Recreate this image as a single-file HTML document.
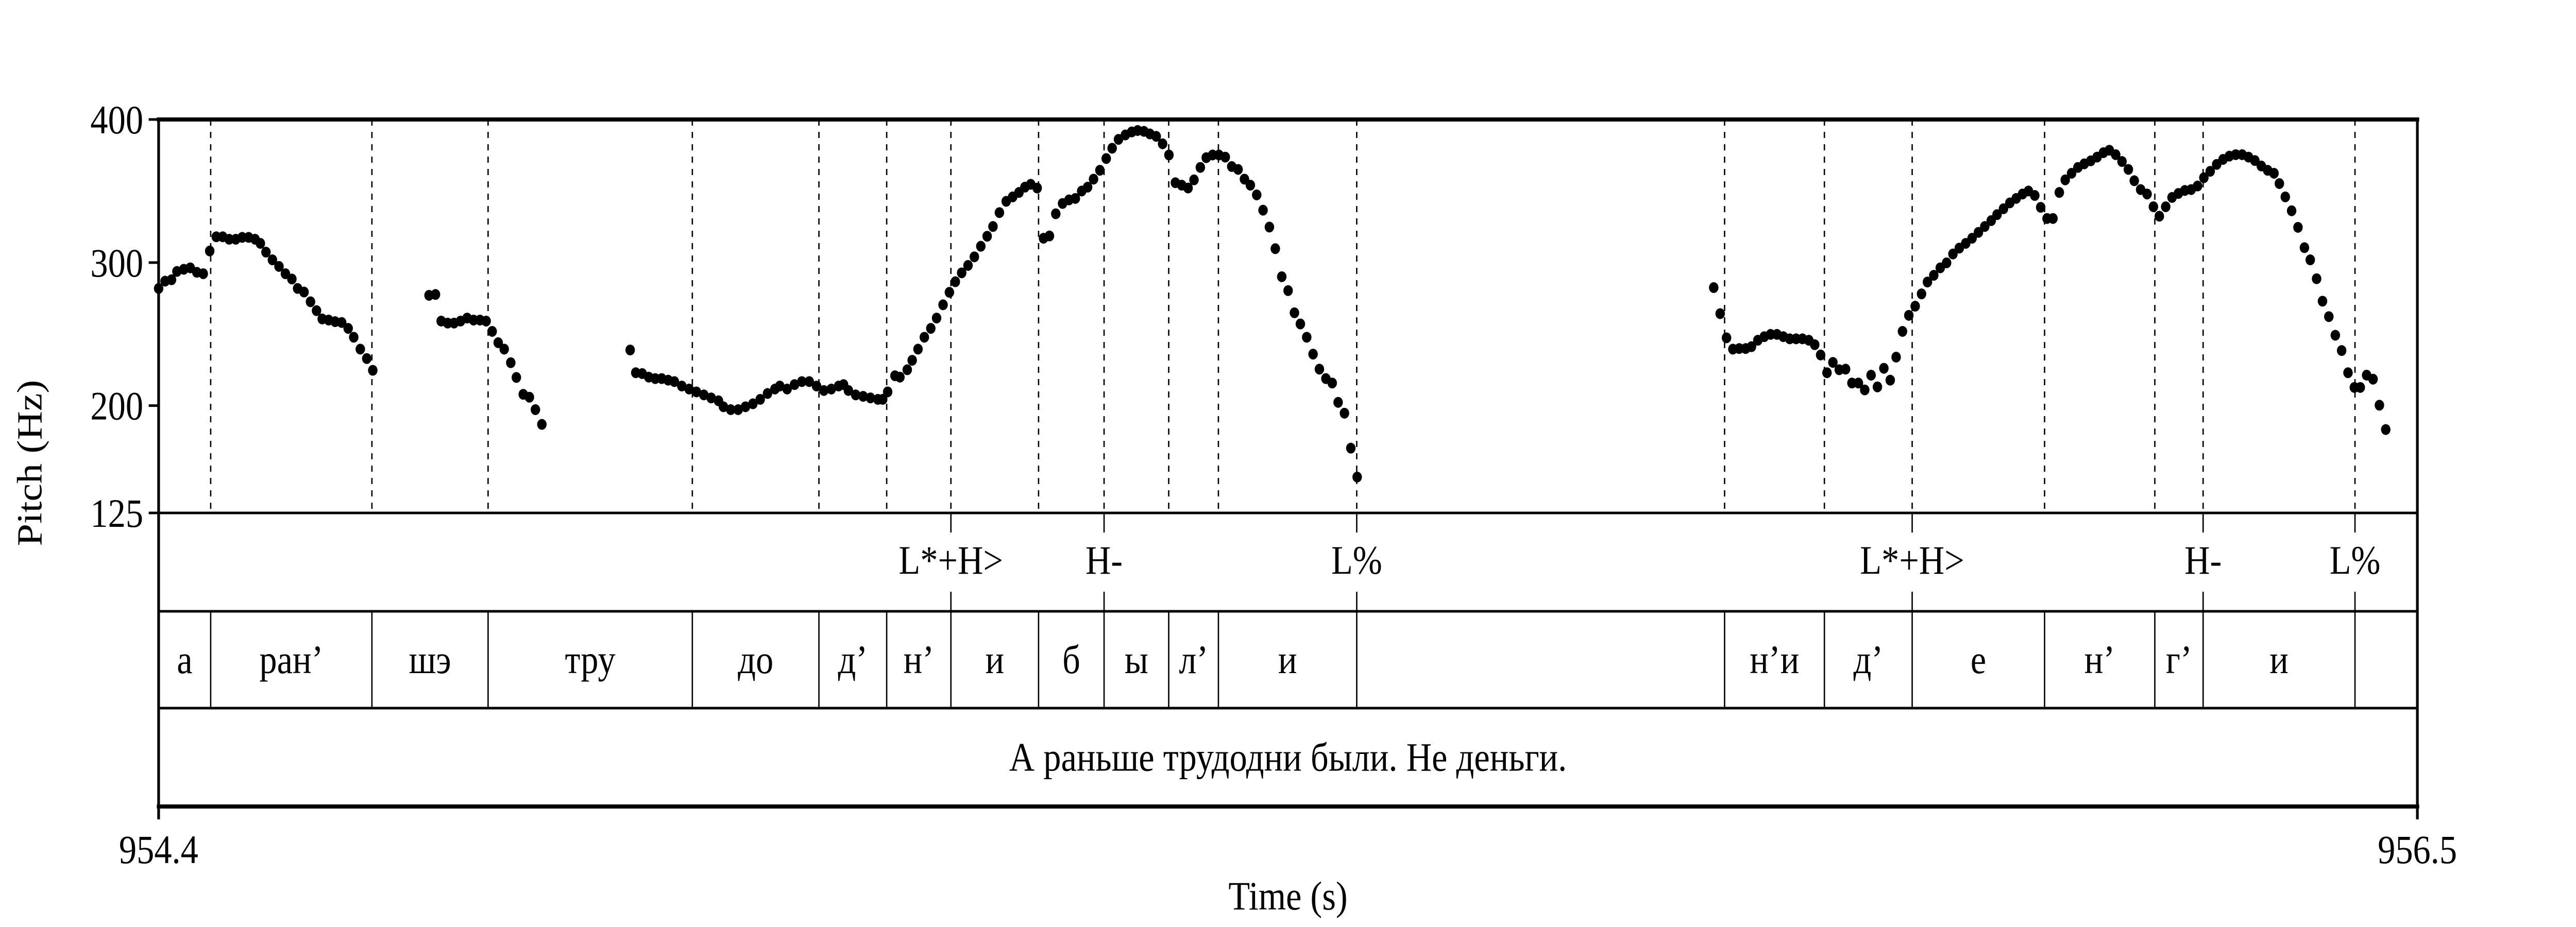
<!DOCTYPE html>
<html><head><meta charset="utf-8"><style>
html,body{margin:0;padding:0;background:#fff;width:100%;height:100%;overflow:hidden;}
svg{display:block;width:100vw;height:100vh;}
text{font-family:"Liberation Serif","DejaVu Serif",serif;fill:#000;}
</style></head><body>
<svg id="chart" viewBox="0 0 5700 1800" preserveAspectRatio="none" xmlns="http://www.w3.org/2000/svg">
<g id="grid"></g>
<g id="dots"></g>
<g id="frame"></g>
<g id="labels"></g>
</svg>
<script>
const tStart = 954.4, tEnd = 956.5;
const fMin = 125, fMax = 400;
const yTicks = [400, 300, 200, 125];
const xTickLabels = ["954.4", "956.5"];
const seg1T = [0.000,0.006,0.012,0.017,0.0234,0.0294,0.0355,0.0415,0.0475,0.0536,0.0596,0.0656,0.0717,0.0777,0.0837,0.0897,0.0946,0.0998,0.1058,0.1119,0.1179,0.1239,0.1292,0.1352,0.1412,0.1468,0.1521,0.1581,0.1641,0.1702,0.1762,0.1814,0.1875,0.1935,0.1991];
const seg1F = [281.9,287,288,293.8,295.3,296.3,293.2,292.2,308.1,318,318,316.3,316.3,317.6,317.6,316.3,313.4,307.3,301.9,297.3,292.2,288.5,281.9,279.4,272.6,266.4,260.6,259.8,258.7,258.1,254,247.8,239.5,232.9,224.7];
const seg2T = [0.2514,0.2574,0.2627,0.2687,0.2747,0.2807,0.2868,0.2928,0.2988,0.3045,0.3101,0.3157,0.3213,0.3274,0.3326,0.3390,0.3447,0.3503,0.3563];
const seg2F = [277.1,277.7,259.1,257.7,257.7,259.1,261.2,259.8,259.8,259.1,251.9,244,239.5,230,219.7,207.9,205.9,197.2,186.9];
const seg3T = [0.4384,0.4436,0.4496,0.4557,0.4617,0.4677,0.4737,0.4795,0.4864,0.4932,0.5000,0.5069,0.5137,0.5205,0.5251,0.5319,0.5388,0.5456,0.5525,0.5593,0.5661,0.5730,0.5775,0.5843,0.5912,0.5980,0.6049,0.6117,0.6185,0.6254,0.6322,0.6368,0.6413,0.6481,0.6550,0.6618,0.6687,0.6732,0.6778,0.6846,0.6892,0.6960,0.7006,0.7060,0.7119,0.7179,0.7233,0.7293,0.7352,0.7407,0.7466,0.7525,0.7584,0.7644,0.7703,0.7757,0.7817,0.7880,0.7940,0.7999,0.8054,0.8108,0.8168];
const seg3F = [238.9,223,222.4,219.9,218.9,218.9,217.8,216.8,213.7,211.6,209.6,207.5,205.4,203.4,199.2,197.2,197.2,199.2,201.3,204.4,208.5,211.6,213.7,211.6,214.7,216.8,216.8,213.7,210.6,211.6,213.7,214.7,210.6,207.5,206.5,205.4,204.4,204.4,209.6,220.9,219.9,225.1,231.7,239.5,247.8,254,261.2,270.5,279.2,286.6,292.8,298,304,311.4,318.4,325.2,334.9,342.8,345.9,349,352.7,354.7,352.1];
const seg4T = [0.8227,0.8282,0.8341,0.8404,0.8464,0.8523,0.8582,0.8637,0.8692,0.8751,0.8810,0.8865,0.8924,0.8988,0.9047,0.9102,0.9161,0.9216,0.9275,0.9334,0.9393,0.9453,0.9512,0.9571,0.9626,0.9685,0.9740,0.9799,0.9858,0.9917,0.9977,1.0036,1.0095,1.0150,1.0209,1.0268,1.0327,1.0382,1.0442,1.0501,1.0560,1.0615,1.0674,1.0733,1.0792,1.0852,1.0911,1.0966,1.1025,1.1084,1.1143];
const seg4F = [317,318.6,334.1,341.3,343.8,344.8,350,352.7,358.3,364.5,372.7,379.9,386.1,389.2,391.3,392.3,391.7,389.9,388.2,383,375.2,355.8,354.1,352.1,357.8,366.5,373.3,375.2,375.2,373.7,367.1,365.1,358.3,354.1,347.3,336.6,324.8,309.7,290.1,280.4,264.9,257.1,247.8,236,225.5,218.9,215.8,202.3,194.7,170.3,150.1];
const seg5T = [1.4458,1.4518,1.4577,1.4636,1.4695,1.4755,1.4809,1.4868,1.4928,1.4987,1.5046,1.5105,1.5165,1.5224,1.5283,1.5342,1.5397,1.5452,1.5511,1.5566,1.5625,1.5684,1.5743,1.5803,1.5862,1.5921,1.5980,1.6040,1.6099,1.6154,1.6213,1.6272,1.6331,1.6390,1.6445,1.6504,1.6564,1.6623,1.6682,1.6741,1.6801,1.6860,1.6919,1.6978,1.7038,1.7092,1.7152,1.7211,1.7270,1.7329,1.7384,1.7443,1.7498,1.7557,1.7612,1.7671,1.7726,1.7785,1.7844,1.7903,1.7963,1.8022,1.8081,1.8136,1.8195,1.8254,1.8313,1.8368,1.8427,1.8487,1.8546,1.8601,1.8660,1.8719,1.8778,1.8838,1.8897,1.8956,1.9015,1.9074,1.9134,1.9193,1.9252,1.9311,1.9371,1.9430,1.9489,1.9549,1.9608,1.9667,1.9717,1.9772,1.9831,1.9890,1.9950,2.0004,2.0063,2.0118,2.0177,2.0237,2.0296,2.0355,2.0414,2.0469,2.0528,2.0588,2.0647,2.0706];
const seg5F = [282.5,264.3,247.4,239.5,239.9,239.9,241.2,245.7,248.2,249.8,249.8,248.2,246.7,246.7,246.7,245.7,242.6,235.4,223,230.2,225.1,225.5,215.8,215.8,211,221.3,213.1,226.1,217.8,233.9,251.9,263.1,269.5,278.1,286.4,291.1,296.3,299.8,306,310.1,313.4,317,321.1,325.2,329.3,333.5,337.6,341.7,344.8,347.9,350,346.9,338.6,330.8,330.8,349,357.8,362.4,366.5,369,371.1,373.7,376.8,378.5,375.4,370.6,365.1,357.2,351,347.9,339,332.4,339,345.5,348.3,350.4,351,353.5,359.3,363.8,368.6,372.1,374.4,375.4,375.4,373.7,371.3,367.5,364.5,362.4,355.2,345.9,336.2,324.6,310.4,301.9,288.7,273,262.2,249.2,238.5,223,212.7,212.7,221.3,218.5,200.3,183.3];
const segBounds = [0.0484,0.1983,0.3063,0.4962,0.6139,0.6769,0.7366,0.8181,0.8790,0.9391,0.9853,1.1139,1.4559,1.5487,1.6303,1.7534,1.8559,1.9008,2.0420];
const segLabels = ["а","ран’","шэ","тру","до","д’","н’","и","б","ы","л’","и","","н’и","д’","е","н’","г’","и",""];
const tonePts = [0.7366,0.8790,1.1139,1.6303,1.9008,2.0420];
const toneLabels = ["L*+H>","H-","L%","L*+H>","H-","L%"];
const sentence = "А раньше трудодни были. Не деньги.";

const X0 = 351, X1 = 5349, YT = 232, YB = 996;
const tierY = [996, 1187, 1375, 1566];
const NS = "http://www.w3.org/2000/svg";
function xs(off){ return X0 + off / (tEnd - tStart) * (X1 - X0); }
function ys(f){ return YB - (f - fMin) / (fMax - fMin) * (YB - YT); }
function mk(parent, tag, attrs, txt){
  const e = document.createElementNS(NS, tag);
  for (const k in attrs) e.setAttribute(k, attrs[k]);
  if (txt !== undefined) e.textContent = txt;
  parent.appendChild(e); return e;
}
const grid = document.getElementById('grid'), dots = document.getElementById('dots'),
      frame = document.getElementById('frame'), labels = document.getElementById('labels');

segBounds.forEach(b => {
  const x = xs(b);
  const l = mk(grid, 'line', {x1:x, y1:YT, x2:x, y2:YB, stroke:'#000', 'stroke-width':3, 'stroke-dasharray':'12 12'});
  
  
  const s = mk(grid, 'line', {x1:x, y1:tierY[1], x2:x, y2:tierY[2], stroke:'#000', 'stroke-width':3});
  
  
});
tonePts.forEach((p, i) => {
  const x = xs(p);
  const a = mk(grid, 'line', {x1:x, y1:tierY[0], x2:x, y2:tierY[0]+38, stroke:'#000', 'stroke-width':3});
  
  
  const b = mk(grid, 'line', {x1:x, y1:tierY[1]-38, x2:x, y2:tierY[1], stroke:'#000', 'stroke-width':3});
  
  
  const t = mk(labels, 'text', {x:x, y:tierY[0]+118, 'font-size':78, 'text-anchor':'middle'}, toneLabels[i]);
  
  
});
[[seg1T,seg1F],[seg2T,seg2F],[seg3T,seg3F],[seg4T,seg4F],[seg5T,seg5F]].forEach(([T,F]) => {
  T.forEach((t, i) => {
    const c = mk(dots, 'circle', {cx:xs(t), cy:ys(F[i]), r:10.5, fill:'#000'});
    
    
  });
});
const allB = [0].concat(segBounds, [tEnd - tStart]);
segLabels.forEach((s, i) => {
  if (!s) return;
  const x = (xs(allB[i]) + xs(allB[i+1])) / 2;
  const t = mk(labels, 'text', {x:x, y:(tierY[1]+tierY[2])/2 + 26, 'font-size':78, 'text-anchor':'middle'}, s);
  
  
});
const st = mk(labels, 'text', {x:(X0+X1)/2, y:(tierY[2]+tierY[3])/2 + 26, 'font-size':78, 'text-anchor':'middle'}, sentence);



const fr = [[X0,YT,X1,YT,8],[X1,YT,X1,tierY[3],6],[X0,YT,X0,1588,6]];
tierY.forEach((y, i) => fr.push([X0, y, X1, y, i === 3 ? 8 : 5]));
fr.push([X1, tierY[3], X1, 1588, 6]);
fr.forEach(f => {
  const l = mk(frame, 'line', {x1:f[0], y1:f[1], x2:f[2], y2:f[3], stroke:'#000', 'stroke-width':f[4], 'stroke-linecap':'square'});
  
  
});
yTicks.forEach(v => {
  const y = ys(v);
  const l = mk(frame, 'line', {x1:X0-22, y1:y, x2:X0, y2:y, stroke:'#000', 'stroke-width':5});
  
  
  const t = mk(labels, 'text', {x:X0-34, y:y+27, 'font-size':78, 'text-anchor':'end'}, String(v));
  
  
});
xTickLabels.forEach((s, i) => {
  const t = mk(labels, 'text', {x:i ? X1 : X0, y:1676, 'font-size':78, 'text-anchor':'middle'}, s);
  
  
});
const xt = mk(labels, 'text', {x:(X0+X1)/2, y:1766, 'font-size':78, 'text-anchor':'middle'}, 'Time (s)');


const yt = mk(labels, 'text', {x:0, y:0, 'font-size':78, 'text-anchor':'middle', transform:'translate(92,899) rotate(-90)'}, 'Pitch (Hz)');


</script>
</body></html>
